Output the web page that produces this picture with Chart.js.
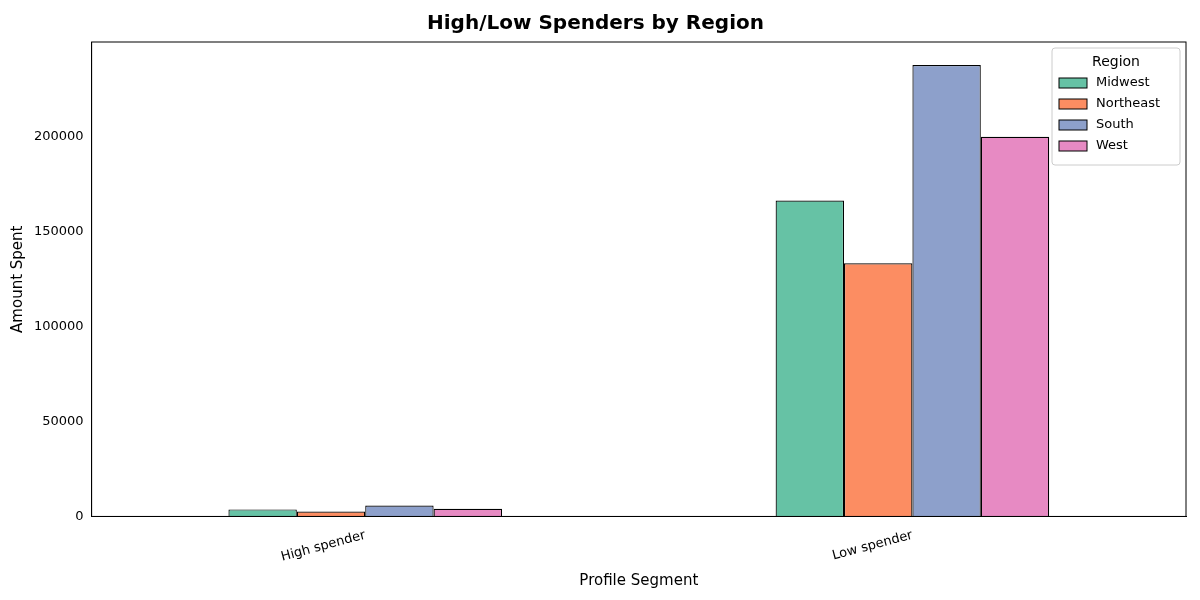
<!DOCTYPE html>
<html>
<head>
<script src="https://cdn.jsdelivr.net/npm/chart.js"></script>
<style>
  body { margin: 0; background: #fff; }
  #wrap { width: 1200px; height: 600px; }
</style>
</head>
<body>
<div id="wrap"><canvas id="myChart"></canvas></div>
<script>
const segments = ["High spender", "Low spender"];
const regions = ["Midwest", "Northeast", "South", "West"];
const colors = ["#66c2a5", "#fc8d62", "#8da0cb", "#e78ac3"];
const midwest = [3700, 166400];
const northeast = [2600, 133300];
const south = [5800, 237800];
const west = [4000, 200000];
const seriesValues = [midwest, northeast, south, west];
const yTicks = [0, 50000, 100000, 150000, 200000];

// Rahmen oben und rechts plus Legende innerhalb des Plotbereichs
const innerLegend = {
  id: "innerLegend",
  afterDraw(chart) {
    const { ctx, chartArea } = chart;
    ctx.save();
    ctx.strokeStyle = "#000";
    ctx.lineWidth = 1;
    ctx.strokeRect(chartArea.left, chartArea.top, chartArea.right - chartArea.left, chartArea.bottom - chartArea.top);

    const w = 128, h = 117;
    const x = chartArea.right - w - 6, y = chartArea.top + 6;
    ctx.fillStyle = "rgba(255,255,255,0.8)";
    ctx.strokeStyle = "#ccc";
    ctx.beginPath();
    ctx.roundRect(x, y, w, h, 3);
    ctx.fill();
    ctx.stroke();
    ctx.fillStyle = "#000";
    ctx.font = "14px 'DejaVu Sans'";
    ctx.textAlign = "center";
    ctx.textBaseline = "middle";
    ctx.fillText("Region", x + w / 2, y + 14);
    ctx.font = "13px 'DejaVu Sans'";
    ctx.textAlign = "left";
    regions.forEach((r, i) => {
      const yy = y + 35 + i * 21;
      ctx.fillStyle = colors[i];
      ctx.fillRect(x + 7, yy - 5, 28, 10);
      ctx.strokeStyle = "#000";
      ctx.strokeRect(x + 7, yy - 5, 28, 10);
      ctx.fillStyle = "#000";
      ctx.fillText(r, x + 44, yy);
    });
    ctx.restore();
  },
};

new Chart(document.getElementById("myChart"), {
  type: "bar",
  data: {
    labels: segments,
    datasets: regions.map((r, i) => ({
      label: r,
      data: seriesValues[i],
      backgroundColor: colors[i],
      borderColor: "#000",
      borderWidth: 1.2,
      categoryPercentage: 0.5,
      barPercentage: 1,
    })),
  },
  options: {
    responsive: true,
    maintainAspectRatio: false,
    animation: false,
    layout: { padding: { left: 5, right: 14, top: 6, bottom: 6 } },
    plugins: {
      legend: { display: false },
      title: {
        display: true,
        text: "High/Low Spenders by Region",
        font: { family: "DejaVu Sans", size: 20, weight: "bold" },
        color: "#000",
        padding: { top: 6, bottom: 6 },
      },
    },
    scales: {
      x: {
        grid: { display: false, drawTicks: true },
        border: { color: "#000" },
        ticks: {
          color: "#000",
          font: { family: "DejaVu Sans", size: 13 },
          maxRotation: 15,
          minRotation: 15,
        },
        title: {
          display: true,
          text: "Profile Segment",
          color: "#000",
          font: { family: "DejaVu Sans", size: 15 },
        },
      },
      y: {
        min: 0,
        max: 249900,
        afterBuildTicks: (axis) => { axis.ticks = yTicks.map((v) => ({ value: v })); },
        grid: { display: false, drawTicks: true, tickLength: 5, tickColor: "#000" },
        border: { color: "#000" },
        ticks: {
          color: "#000",
          font: { family: "DejaVu Sans", size: 13 },
          callback: (v) => String(v),
        },
        title: {
          display: true,
          text: "Amount Spent",
          color: "#000",
          font: { family: "DejaVu Sans", size: 15 },
        },
      },
    },
  },
  plugins: [innerLegend],
});
</script>
</body>
</html>
